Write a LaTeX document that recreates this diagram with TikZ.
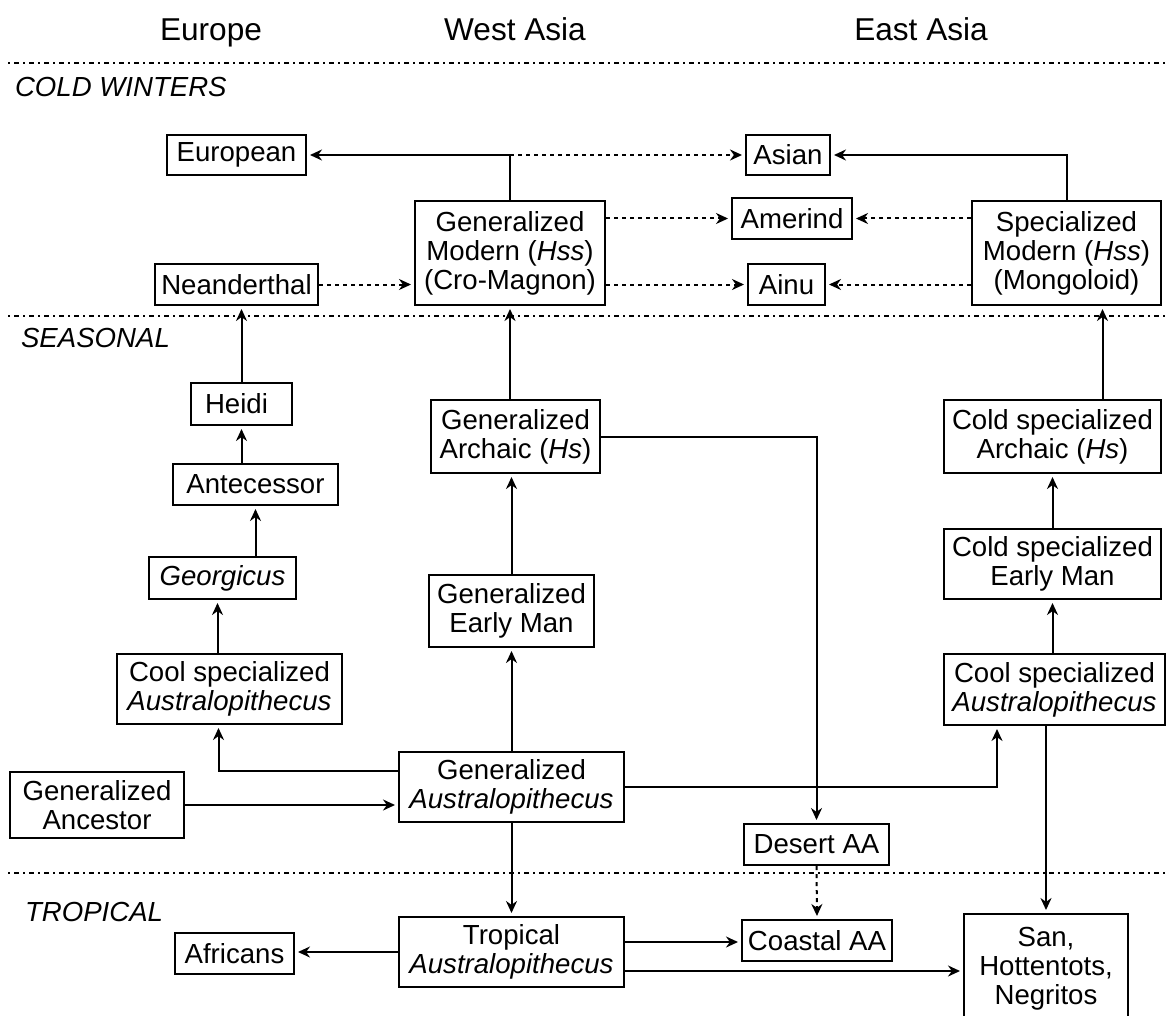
\documentclass[tikz,border=0pt]{standalone}
\usepackage{fontspec}
\setmainfont{Liberation Sans}
\usetikzlibrary{arrows.meta,positioning}

\begin{document}
\begin{tikzpicture}[x=0.5pt,y=-0.5pt,>={Stealth[length=6pt,width=5.5pt]},
  font=\fontsize{13.8}{14.5}\selectfont,
  box/.style={draw,line width=1pt,inner sep=0pt,align=center},
  dims/.style 2 args={minimum width=#1,minimum height=#2},
  link/.style={->,line width=1pt,shorten >=1.5pt},
  maybe/.style={link,dash pattern=on 2pt off 2pt},
  zone/.style={line width=0.8pt,dash pattern=on 1pt off 2pt on 2.5pt off 2pt},
  zonelabel/.style={anchor=west,font=\fontsize{13.8}{14.5}\selectfont\itshape},
  region/.style={anchor=base,font=\fontsize{15.8}{17}\selectfont}]
  \useasboundingbox (0,0) rectangle (1166,1016);

  \node[region] (europe) at (211,41) {Europe};
  \node[region] (westasia) at (515,41) {West Asia};
  \node[region] (eastasia) at (921,41) {East Asia};

  \draw[zone] (8,63) -- (1166,63);
  \draw[zone] (8,316) -- (1166,316);
  \draw[zone] (8,873) -- (1166,873);
  \node[zonelabel] (cold) at (8,87) {COLD WINTERS};
  \node[zonelabel] (seasonal) at (14,338) {SEASONAL};
  \node[zonelabel] (tropic) at (18,912) {TROPICAL};

  % cold winters
  \node[box,dims={69.5pt}{20pt}] (european) at (236.5,155) {European};
  \node[box,dims={42pt}{20pt}] (asian) at (788,155) {Asian};
  \node[box,dims={60pt}{20.5pt}] (amerind) at (792,218.5) {Amerind};
  \node[box,dims={38.5pt}{20.5pt}] (ainu) at (786.5,284.5) {Ainu};
  \node[box,dims={81.5pt}{20.5pt}] (neander) at (236.5,284.5) {Neanderthal};
  \node[box,dims={95pt}{52pt}] (cromag) at (510,253) {Generalized\\Modern (\textit{Hss})\\(Cro-Magnon)};
  \node[box,dims={94.5pt}{52pt}] (mongol) at (1066.5,253) {Specialized\\Modern (\textit{Hss})\\(Mongoloid)};

  % seasonal
  \node[box,dims={50.5pt}{21pt}] (heidi) at (241.5,404) {Heidi\hspace*{5pt}};
  \node[box,dims={82.5pt}{20.5pt}] (antecessor) at (255.5,484.5) {Antecessor};
  \node[box,dims={73.5pt}{21pt}] (georgicus) at (222.5,578) {\textit{Georgicus}};
  \node[box,dims={112.5pt}{35pt}] (coolL) at (229.5,689) {Cool specialized\\\textit{Australopithecus}};
  \node[box,dims={87pt}{33pt}] (genanc) at (97,805) {Generalized\\Ancestor};
  \node[box,dims={112.5pt}{35pt}] (genaus) at (511.5,787) {Generalized\\\textit{Australopithecus}};
  \node[box,dims={84.5pt}{36.5pt}] (archaic) at (515.5,436.5) {Generalized\\Archaic (\textit{Hs})};
  \node[box,dims={82.5pt}{36pt}] (earlyman) at (511.5,611) {Generalized\\Early Man};
  \node[box,dims={108.5pt}{36.5pt}] (coldarch) at (1052.5,436.5) {Cold specialized\\Archaic (\textit{Hs})};
  \node[box,dims={108.5pt}{35pt}] (coldearly) at (1052.5,564) {Cold specialized\\Early Man};
  \node[box,dims={110.5pt}{35.5pt}] (coolR) at (1054.5,689.5) {Cool specialized\\\textit{Australopithecus}};
  \node[box,dims={72.5pt}{20.5pt}] (desert) at (816.5,844.5) {Desert AA};

  % tropical
  \node[box,dims={75pt}{20.5pt}] (coastal) at (817,940.5) {Coastal AA};
  \node[box,dims={112.5pt}{35pt}] (tropical) at (511.5,952) {Tropical\\\textit{Australopithecus}};
  \node[box,dims={59.5pt}{20.5pt}] (africans) at (234.5,953.5) {Africans};
  \node[box,dims={82pt}{55pt}] (san) at (1046,969) {San,\\Hottentots,\\Negritos};

  \draw[link] (cromag.north) |- (european.east);
  \draw[maybe] (cromag.north |- asian.west) -- (asian.west);
  \draw[link] (mongol.north) |- (asian.east);
  \draw[maybe] (cromag.east |- amerind.west) -- (amerind.west);
  \draw[maybe] (cromag.east |- ainu.west) -- (ainu.west);
  \draw[maybe] (mongol.west |- amerind.east) -- (amerind.east);
  \draw[maybe] (mongol.west |- ainu.east) -- (ainu.east);
  \draw[maybe] (neander.east) -- (neander.east -| cromag.west);

  \draw[link] (heidi.north) -- (heidi.north |- neander.south);
  \draw[link] (antecessor.north -| heidi.south) -- (heidi.south);
  \draw[link] (georgicus.north -| antecessor.south) -- (antecessor.south);
  \draw[link] ([xshift=-6pt]coolL.north) -- ([xshift=-6pt]coolL.north |- georgicus.south);
  \draw[link] ([yshift=8pt]genaus.west) -| ([xshift=-5.5pt]coolL.south);
  \draw[link] (genanc.east) -- (genanc.east -| genaus.west);

  \draw[link] (genaus.north) -- (earlyman.south);
  \draw[link] (earlyman.north) -- (earlyman.north |- archaic.south);
  \draw[link] (archaic.north -| cromag.south) -- (cromag.south);
  \draw[link] (archaic.east) -| (desert.north);
  \draw[maybe] (desert.south) -- (coastal.north);

  \draw[link] (genaus.east) -| ([xshift=-28.75pt]coolR.south);
  \draw[link] (coolR.north -| coldearly.south) -- (coldearly.south);
  \draw[link] (coldearly.north) -- (coldarch.south);
  \draw[link] ([xshift=25pt]coldarch.north) -- ([xshift=25pt]coldarch.north |- mongol.south);
  \draw[link] (san.north |- coolR.south) -- (san.north);

  \draw[link] (genaus.south) -- (tropical.north);
  \draw[link] (tropical.west) -- (tropical.west -| africans.east);
  \draw[link] ([yshift=5pt]tropical.east) -- ([yshift=5pt]tropical.east -| coastal.west);
  \draw[link] ([yshift=-9.5pt]tropical.east) -- ([yshift=-9.5pt]tropical.east -| san.west);
\end{tikzpicture}
\end{document}
